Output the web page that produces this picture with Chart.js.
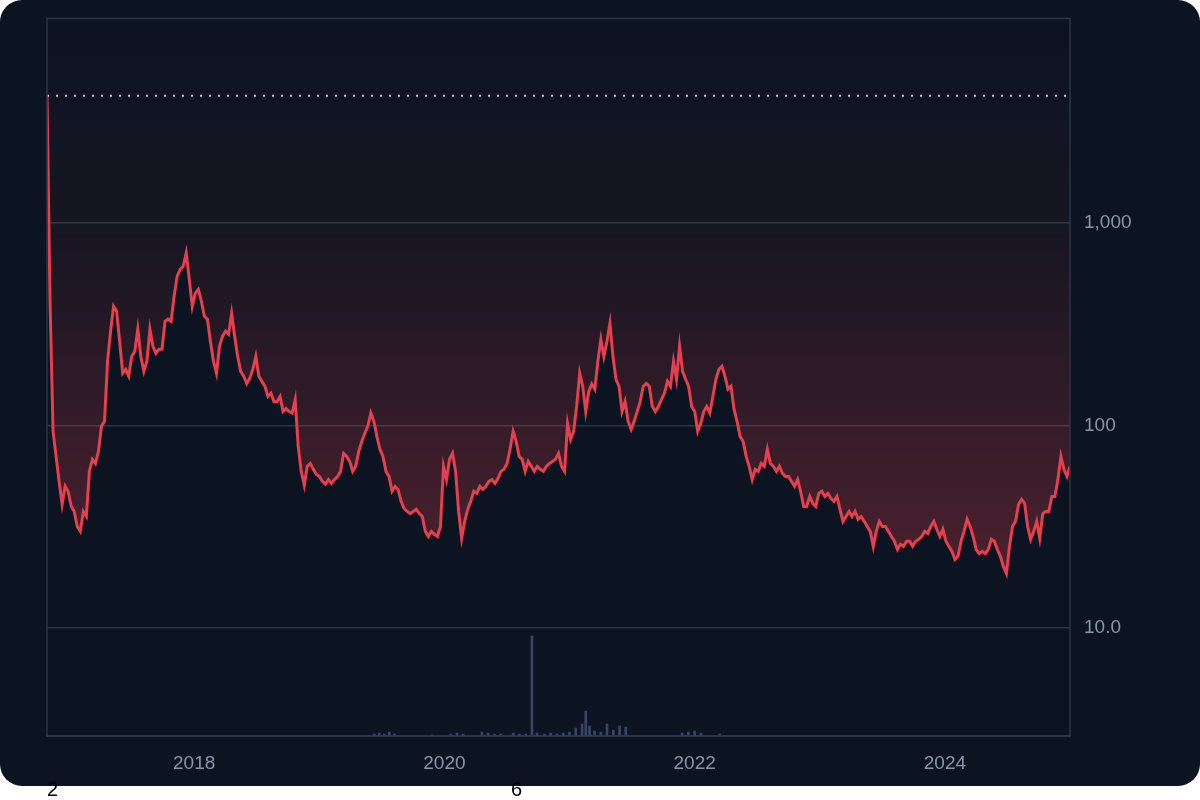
<!DOCTYPE html>
<html><head><meta charset="utf-8">
<script src="https://cdn.jsdelivr.net/npm/chart.js@4"></script>
<style>
html,body{margin:0;padding:0;background:#fff;width:1200px;height:800px;overflow:hidden;font-family:"Liberation Sans",Arial,sans-serif}
#card{position:absolute;left:0;top:0;width:1200px;height:786px;background:#0d1421;border-radius:22px;overflow:hidden}
#wrap{position:absolute;left:0;top:-7px;width:1200px;height:793px}
.stray{position:absolute;font-size:20px;color:#000}
</style></head><body>
<div id="card"><div id="wrap"><canvas id="c"></canvas></div></div>
<div class="stray" style="left:47px;top:778px">2</div>
<div class="stray" style="left:511px;top:778px">6</div>
<script>
const startYear = 2016.824;
const endYear = 2025.0;
const prices = [4300,411,93.4,70.2,52.8,40.6,50,47,39.8,37.5,31.6,29.9,37.5,35.5,59.2,67.9,64.8,74.3,98.9,104.7,207,292,388,367,260,181,189,175,219,232,299,219,185,207,299,246,227,238,238,327,335,327,435,546,591,612,711,528,388,450,471,411,346,335,260,207,181,246,276,292,282,358,276,219,185,175,161,171,189,219,175,165,156,139,144,131,131,139,117,121,117,115,134,78.7,59.2,50.5,62.7,64.8,60.6,57.2,55.9,52.8,51.1,53.9,51.6,53.9,55.9,59.2,72.7,70.2,66.3,59.2,62.7,74.3,83.3,91.3,98.9,115,104.7,88.2,76.1,70.2,59.2,55.9,47.2,49.9,48.2,42.1,38.8,37.5,36.6,37.5,38.4,36.6,35.4,29.9,28.2,29.9,28.9,28.2,31.6,62.7,53.9,67.9,72.7,59.2,37.5,27.6,33.5,38.4,42.1,47.2,46.1,49.9,48.2,49.9,52.8,53.9,51.6,54.6,59.2,60.6,64.8,76.1,93.4,83.3,70.2,67.9,59.2,66.3,62.7,59.2,62.7,60.6,59.2,62.7,64.8,66.3,67.9,72.7,62.7,59.2,102,85.2,93.4,124,181,156,117,147,160,151,207,266,219,260,320,219,169,156,117,131,104.7,95.5,104.7,117,131,156,161,156,124,117,124,134,144,165,156,207,169,246,185,169,156,124,117,93.4,102,117,124,115,139,169,189,196,175,151,156,120,104.7,88.2,83.3,70.2,62.7,53.9,60.6,59.2,64.8,62.7,76.1,64.8,62.7,59.2,62.7,57.9,55.9,55.9,52.8,49.9,53.9,47.2,39.7,39.7,44.5,41.1,39.7,46.1,47.2,44.5,46.1,43.5,42.1,44.5,38.4,33.5,35.4,37.5,35.4,37.5,34.3,35.4,33.5,31.6,29.9,25.2,29.9,33.5,31.6,31.6,29.9,28.2,26.7,24.3,25.8,25.2,26.7,26.7,25.2,26.7,27.3,28.2,29.9,29.2,31.6,33.5,30.6,28.2,30.6,26.7,25.2,23.8,21.7,22.5,26.7,29.9,34.3,31.6,28.2,24.3,23.2,23.8,23.2,24.3,27.3,26.7,24.3,22.5,20.0,18.5,25.2,31.6,33.5,40.6,43.0,41.1,31.6,27.3,29.9,33.5,27.6,36.6,37.5,37.5,44.5,44.5,53.9,70.2,60.6,55.9,62.7];
const athLevel = 4270;
const volYears = [2019.44,2019.48,2019.52,2019.56,2019.6,2019.9,2020.05,2020.1,2020.15,2020.3,2020.35,2020.4,2020.45,2020.55,2020.6,2020.65,2020.70,2020.74,2020.8,2020.85,2020.9,2020.95,2021.0,2021.05,2021.1,2021.13,2021.16,2021.2,2021.25,2021.3,2021.35,2021.4,2021.45,2021.9,2021.95,2022.0,2022.05,2022.2];
const volumes = [2,3,2,4,2,1,2,3,2,4,3,2,2,3,2,2,100,3,2,3,2,3,4,8,12,25,10,5,4,12,6,10,9,3,4,5,3,2];
const yTicks = [10,100,1000];
const xTicks = [2018,2020,2022,2024];

const step = (endYear-startYear)/(prices.length-1);
const pricePts = prices.map((v,i)=>({x:startYear+i*step,y:v}));
const volPts = volYears.map((x,i)=>({x:x,y:volumes[i]}));
const ctx = document.getElementById('c');
new Chart(ctx,{
  data:{datasets:[
    {type:'line',data:pricePts,borderColor:'#e5404d',borderWidth:3,pointRadius:0,tension:0,yAxisID:'y',order:1,
     fill:'end',
     backgroundColor:(c)=>{const a=c.chart.chartArea;if(!a)return 'rgba(0,0,0,0)';
       const g=c.chart.ctx.createLinearGradient(0,a.top,0,a.top+560);
       g.addColorStop(0,'rgba(229,64,77,0.0)');g.addColorStop(0.4,'rgba(229,64,77,0.05)');g.addColorStop(1,'rgba(229,64,77,0.3)');return g;}},
    {type:'line',data:[{x:startYear,y:athLevel},{x:endYear,y:athLevel}],borderColor:'rgba(220,225,235,0.85)',borderWidth:2,borderDash:[2,7],pointRadius:0,yAxisID:'y',order:0},
    {type:'bar',data:volPts,backgroundColor:'#3a4466',barThickness:2,yAxisID:'v',order:2}
  ]},
  options:{responsive:true,maintainAspectRatio:false,animation:false,
    layout:{padding:{left:47,top:2,right:0,bottom:3}},
    plugins:{legend:{display:false},tooltip:{enabled:false}},
    scales:{
      x:{type:'linear',min:startYear,max:endYear,offset:false,
        grid:{display:false},border:{color:'#2c3546',width:2},
        afterBuildTicks:(s)=>{s.ticks=xTicks.map(v=>({value:v}));},
        ticks:{color:'#8a94a6',font:{size:19,family:'Liberation Sans'},padding:8,callback:v=>String(v)}},
      y:{type:'logarithmic',position:'right',min:2.9,max:10300,
        grid:{color:'#2c3546',lineWidth:1.5,drawTicks:false},border:{display:false},
        afterBuildTicks:(s)=>{s.ticks=yTicks.map(v=>({value:v}));},
        afterFit:(s)=>{s.width=130;},
        ticks:{color:'#8a94a6',font:{size:19,family:'Liberation Sans'},padding:14,
          callback:v=>v===10?'10.0':v.toLocaleString('en-US')}},
      v:{type:'linear',display:false,min:0,max:717}
    }
  },
  plugins:[{id:'frame',afterDraw(ch){const a=ch.chartArea,c=ch.ctx;c.save();c.strokeStyle='#2c3546';c.lineWidth=1.5;
    c.strokeRect(a.left,a.top,a.right-a.left,a.bottom-a.top);c.restore();}}]
});
</script>
</body></html>
